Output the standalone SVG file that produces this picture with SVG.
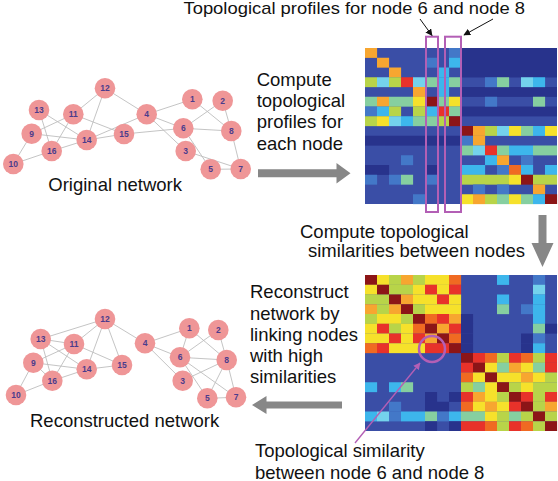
<svg xmlns="http://www.w3.org/2000/svg" width="558" height="481" viewBox="0 0 558 481">
<style>
text{font-family:"Liberation Sans",Arial,sans-serif;fill:#111}
.lab{font-size:18.5px}
.edges line{stroke:#bdbdbd;stroke-width:0.9}
.node circle{fill:#ef9697}
.node text{font-size:8.5px;font-weight:bold;fill:#4b3c8c;text-anchor:middle}
.cells rect{width:12.1px;height:9.9px}
.nv{fill:#28338c}.bl{fill:#3a4ea6}.b2{fill:#4378c8}.lb{fill:#3db6ec}.cy{fill:#74d2ec}.tl{fill:#86cfa0}
.yg{fill:#b8d449}.ye{fill:#f6e12b}.or{fill:#f7a630}.ro{fill:#f06a22}.rd{fill:#e8322a}.dr{fill:#8c1517}
.garrow{fill:#878787}
.mag{fill:none;stroke:#b35fb5;stroke-width:2}
</style>
<defs>
<marker id="ah" viewBox="0 0 10 10" refX="9" refY="5" markerWidth="7" markerHeight="7" orient="auto" markerUnits="userSpaceOnUse"><path d="M0,0L10,5L0,10z" fill="#111"/></marker>
<marker id="am" viewBox="0 0 10 10" refX="9" refY="5" markerWidth="7" markerHeight="7" orient="auto" markerUnits="userSpaceOnUse"><path d="M0,0L10,5L0,10z" fill="#b35fb5"/></marker>
</defs>

<!-- Top heatmap -->
<g id="heatmap-profiles">
<rect x="365" y="48" width="192" height="156" class="bl"/>
<rect x="461" y="48" width="96" height="29.5" class="nv"/>
<rect x="461" y="87" width="96" height="9.9" class="nv"/>
<rect x="461" y="106.5" width="96" height="9.9" class="nv"/>
<rect x="365" y="135.75" width="96" height="9.9" class="nv"/>
<g class="cells">
<rect x="365" y="48" class="or"/><rect x="449" y="48" class="b2"/>
<rect x="377" y="57.75" class="or"/><rect x="425" y="57.75" class="b2"/><rect x="449" y="57.75" class="lb"/>
<rect x="389" y="67.5" class="or"/><rect x="437" y="67.5" class="lb"/>
<rect x="365" y="77.25" class="yg"/><rect x="377" y="77.25" class="cy"/><rect x="389" y="77.25" class="yg"/><rect x="401" y="77.25" class="rd"/><rect x="413" y="77.25" class="cy"/><rect x="425" y="77.25" class="tl"/><rect x="437" y="77.25" class="lb"/><rect x="449" y="77.25" class="tl"/><rect x="485" y="77.25" class="b2"/><rect x="497" y="77.25" class="tl"/><rect x="521" y="77.25" class="cy"/><rect x="533" y="77.25" class="lb"/>
<rect x="413" y="87" class="or"/><rect x="437" y="87" class="lb"/>
<rect x="365" y="96.75" class="tl"/><rect x="377" y="96.75" class="or"/><rect x="389" y="96.75" class="tl"/><rect x="401" y="96.75" class="tl"/><rect x="413" y="96.75" class="ye"/><rect x="425" y="96.75" class="dr"/><rect x="437" y="96.75" class="tl"/><rect x="449" y="96.75" class="ye"/><rect x="485" y="96.75" class="b2"/><rect x="533" y="96.75" class="tl"/>
<rect x="365" y="106.5" class="b2"/><rect x="377" y="106.5" class="lb"/><rect x="389" y="106.5" class="yg"/><rect x="413" y="106.5" class="yg"/><rect x="425" y="106.5" class="lb"/><rect x="437" y="106.5" class="rd"/><rect x="449" y="106.5" class="tl"/>
<rect x="365" y="116.25" class="yg"/><rect x="377" y="116.25" class="ye"/><rect x="389" y="116.25" class="cy"/><rect x="401" y="116.25" class="lb"/><rect x="413" y="116.25" class="tl"/><rect x="425" y="116.25" class="tl"/><rect x="437" y="116.25" class="yg"/><rect x="449" y="116.25" class="dr"/>
<rect x="461" y="126" class="dr"/><rect x="473" y="126" class="or"/><rect x="485" y="126" class="yg"/><rect x="497" y="126" class="cy"/><rect x="509" y="126" class="ye"/><rect x="521" y="126" class="tl"/><rect x="533" y="126" class="lb"/><rect x="545" y="126" class="ye"/>
<rect x="461" y="135.75" class="b2"/><rect x="473" y="135.75" class="or"/>
<rect x="461" y="145.5" class="tl"/><rect x="473" y="145.5" class="cy"/><rect x="485" y="145.5" class="rd"/><rect x="497" y="145.5" class="tl"/><rect x="509" y="145.5" class="lb"/><rect x="521" y="145.5" class="lb"/><rect x="533" y="145.5" class="tl"/><rect x="545" y="145.5" class="tl"/>
<rect x="401" y="155.25" class="b2"/><rect x="485" y="155.25" class="lb"/><rect x="497" y="155.25" class="or"/><rect x="521" y="155.25" class="b2"/>
<rect x="365" y="165" class="nv"/><rect x="377" y="165" class="nv"/><rect x="425" y="165" class="nv"/><rect x="461" y="165" class="lb"/><rect x="473" y="165" class="lb"/><rect x="497" y="165" class="b2"/><rect x="509" y="165" class="ro"/><rect x="521" y="165" class="lb"/><rect x="545" y="165" class="lb"/>
<rect x="365" y="174.75" class="b2"/><rect x="389" y="174.75" class="b2"/><rect x="401" y="174.75" class="tl"/><rect x="425" y="174.75" class="b2"/><rect x="461" y="174.75" class="yg"/><rect x="473" y="174.75" class="yg"/><rect x="485" y="174.75" class="yg"/><rect x="497" y="174.75" class="yg"/><rect x="509" y="174.75" class="ye"/><rect x="521" y="174.75" class="dr"/><rect x="533" y="174.75" class="yg"/><rect x="545" y="174.75" class="yg"/>
<rect x="473" y="184.5" class="b2"/><rect x="497" y="184.5" class="b2"/><rect x="533" y="184.5" class="or"/>
<rect x="413" y="194.25" class="b2"/><rect x="461" y="194.25" class="ye"/><rect x="473" y="194.25" class="or"/><rect x="485" y="194.25" class="yg"/><rect x="497" y="194.25" class="tl"/><rect x="509" y="194.25" class="ye"/><rect x="521" y="194.25" class="tl"/><rect x="533" y="194.25" class="lb"/><rect x="545" y="194.25" style="fill:#8c1517;height:9.75px"/>
</g>
</g>

<!-- Bottom heatmap -->
<g id="heatmap-similarity">
<rect x="365" y="275" width="192" height="156" class="bl"/>
<g class="cells">
<rect x="365" y="275" class="dr"/><rect x="377" y="275" class="ye"/><rect x="389" y="275" class="yg"/><rect x="401" y="275" class="or"/><rect x="413" y="275" class="yg"/><rect x="425" y="275" class="ye"/><rect x="437" y="275" class="ye"/><rect x="449" y="275" class="ro"/><rect x="497" y="275" class="lb"/><rect x="533" y="275" class="b2"/>
<rect x="365" y="284.75" class="ye"/><rect x="377" y="284.75" class="dr"/><rect x="389" y="284.75" class="yg"/><rect x="401" y="284.75" class="yg"/><rect x="413" y="284.75" class="ye"/><rect x="425" y="284.75" class="rd"/><rect x="437" y="284.75" class="ye"/><rect x="449" y="284.75" class="rd"/><rect x="533" y="284.75" class="cy"/>
<rect x="365" y="294.5" class="yg"/><rect x="377" y="294.5" class="yg"/><rect x="389" y="294.5" class="dr"/><rect x="401" y="294.5" class="or"/><rect x="413" y="294.5" class="ye"/><rect x="425" y="294.5" class="ye"/><rect x="437" y="294.5" class="rd"/><rect x="449" y="294.5" class="ye"/><rect x="497" y="294.5" class="lb"/><rect x="533" y="294.5" class="lb"/>
<rect x="365" y="304.25" class="or"/><rect x="377" y="304.25" class="yg"/><rect x="389" y="304.25" class="or"/><rect x="401" y="304.25" class="dr"/><rect x="413" y="304.25" class="yg"/><rect x="425" y="304.25" class="ye"/><rect x="437" y="304.25" class="ye"/><rect x="449" y="304.25" class="ye"/><rect x="497" y="304.25" class="tl"/><rect x="521" y="304.25" class="b2"/><rect x="533" y="304.25" class="lb"/>
<rect x="365" y="314" class="yg"/><rect x="377" y="314" class="ye"/><rect x="389" y="314" class="ye"/><rect x="401" y="314" class="yg"/><rect x="413" y="314" class="dr"/><rect x="425" y="314" class="ro"/><rect x="437" y="314" class="rd"/><rect x="449" y="314" class="or"/><rect x="461" y="314" class="nv"/><rect x="533" y="314" class="lb"/>
<rect x="365" y="323.75" class="ye"/><rect x="377" y="323.75" class="rd"/><rect x="389" y="323.75" class="yg"/><rect x="401" y="323.75" class="ye"/><rect x="413" y="323.75" class="ro"/><rect x="425" y="323.75" class="dr"/><rect x="437" y="323.75" class="or"/><rect x="449" y="323.75" class="rd"/><rect x="461" y="323.75" class="nv"/><rect x="533" y="323.75" class="tl"/><rect x="545" y="323.75" class="nv"/>
<rect x="365" y="333.5" class="ye"/><rect x="377" y="333.5" class="ye"/><rect x="389" y="333.5" class="rd"/><rect x="401" y="333.5" class="ye"/><rect x="413" y="333.5" class="rd"/><rect x="425" y="333.5" class="or"/><rect x="437" y="333.5" class="dr"/><rect x="449" y="333.5" class="ro"/><rect x="461" y="333.5" class="nv"/><rect x="521" y="333.5" class="nv"/><rect x="533" y="333.5" class="b2"/>
<rect x="365" y="343.25" class="ro"/><rect x="377" y="343.25" class="rd"/><rect x="389" y="343.25" class="ye"/><rect x="401" y="343.25" class="ye"/><rect x="413" y="343.25" class="ye"/><rect x="425" y="343.25" class="rd"/><rect x="437" y="343.25" class="rd"/><rect x="449" y="343.25" class="dr"/><rect x="461" y="343.25" class="nv"/><rect x="521" y="343.25" class="nv"/><rect x="533" y="343.25" class="lb"/>
<rect x="461" y="353" class="dr"/><rect x="473" y="353" class="rd"/><rect x="485" y="353" class="ro"/><rect x="497" y="353" class="yg"/><rect x="509" y="353" class="rd"/><rect x="521" y="353" class="ro"/><rect x="533" y="353" class="yg"/><rect x="545" y="353" class="rd"/>
<rect x="461" y="362.75" class="rd"/><rect x="473" y="362.75" class="dr"/><rect x="485" y="362.75" class="ye"/><rect x="497" y="362.75" class="tl"/><rect x="509" y="362.75" class="or"/><rect x="521" y="362.75" class="ye"/><rect x="533" y="362.75" class="tl"/><rect x="545" y="362.75" class="rd"/>
<rect x="461" y="372.5" class="ro"/><rect x="473" y="372.5" class="ye"/><rect x="485" y="372.5" class="dr"/><rect x="497" y="372.5" class="ye"/><rect x="509" y="372.5" class="ye"/><rect x="521" y="372.5" class="or"/><rect x="533" y="372.5" class="ye"/><rect x="545" y="372.5" class="yg"/>
<rect x="365" y="382.25" class="lb"/><rect x="389" y="382.25" class="lb"/><rect x="401" y="382.25" class="tl"/><rect x="461" y="382.25" class="yg"/><rect x="473" y="382.25" class="tl"/><rect x="485" y="382.25" class="ye"/><rect x="497" y="382.25" class="dr"/><rect x="509" y="382.25" class="yg"/><rect x="521" y="382.25" class="ye"/><rect x="533" y="382.25" class="yg"/><rect x="545" y="382.25" class="yg"/>
<rect x="425" y="392" class="nv"/><rect x="449" y="392" class="nv"/><rect x="461" y="392" class="rd"/><rect x="473" y="392" class="or"/><rect x="485" y="392" class="ye"/><rect x="497" y="392" class="yg"/><rect x="509" y="392" class="dr"/><rect x="521" y="392" class="rd"/><rect x="533" y="392" class="yg"/><rect x="545" y="392" class="rd"/>
<rect x="389" y="401.75" class="b2"/><rect x="425" y="401.75" class="nv"/><rect x="437" y="401.75" class="nv"/><rect x="461" y="401.75" class="ro"/><rect x="473" y="401.75" class="ye"/><rect x="485" y="401.75" class="or"/><rect x="497" y="401.75" class="ye"/><rect x="509" y="401.75" class="rd"/><rect x="521" y="401.75" class="dr"/><rect x="533" y="401.75" class="yg"/><rect x="545" y="401.75" class="or"/>
<rect x="365" y="411.5" class="lb"/><rect x="377" y="411.5" class="cy"/><rect x="389" y="411.5" class="b2"/><rect x="401" y="411.5" class="lb"/><rect x="413" y="411.5" class="lb"/><rect x="425" y="411.5" class="tl"/><rect x="437" y="411.5" class="b2"/><rect x="449" y="411.5" class="lb"/><rect x="461" y="411.5" class="tl"/><rect x="473" y="411.5" class="tl"/><rect x="485" y="411.5" class="ye"/><rect x="497" y="411.5" class="yg"/><rect x="509" y="411.5" class="tl"/><rect x="521" y="411.5" class="yg"/><rect x="533" y="411.5" class="dr"/><rect x="545" y="411.5" class="yg"/>
<rect x="425" y="421.25" style="fill:#28338c;height:9.75px"/><rect x="449" y="421.25" style="fill:#28338c;height:9.75px"/><rect x="461" y="421.25" style="fill:#e8322a;height:9.75px"/><rect x="473" y="421.25" style="fill:#e8322a;height:9.75px"/><rect x="485" y="421.25" style="fill:#f06a22;height:9.75px"/><rect x="497" y="421.25" style="fill:#b8d449;height:9.75px"/><rect x="509" y="421.25" style="fill:#e8322a;height:9.75px"/><rect x="521" y="421.25" style="fill:#f06a22;height:9.75px"/><rect x="533" y="421.25" style="fill:#b8d449;height:9.75px"/><rect x="545" y="421.25" style="fill:#8c1517;height:9.75px"/>
</g>
</g>

<!-- Highlights -->
<g id="highlight-node6"><rect x="426" y="36.7" width="12" height="175.3" class="mag"/></g>
<g id="highlight-node8"><rect x="445" y="36.7" width="16" height="175.3" class="mag"/></g>
<g id="highlight-pair"><circle cx="432" cy="349" r="13" class="mag" style="stroke-width:2.5"/></g>

<!-- Networks: edges and arrows -->
<g id="connectors" class="edges">
<line x1="105" y1="88.3" x2="73.3" y2="114.3"/>
<line x1="105" y1="88.3" x2="86.7" y2="140"/>
<line x1="105" y1="88.3" x2="146.7" y2="114.3"/>
<line x1="39" y1="110" x2="86.7" y2="140"/>
<line x1="39" y1="110" x2="51.7" y2="151"/>
<line x1="73.3" y1="114.3" x2="31.7" y2="133.7"/>
<line x1="73.3" y1="114.3" x2="51.7" y2="151"/>
<line x1="73.3" y1="114.3" x2="124" y2="134"/>
<line x1="31.7" y1="133.7" x2="86.7" y2="140"/>
<line x1="31.7" y1="133.7" x2="13.3" y2="164"/>
<line x1="51.7" y1="151" x2="13.3" y2="164"/>
<line x1="51.7" y1="151" x2="86.7" y2="140"/>
<line x1="86.7" y1="140" x2="124" y2="134"/>
<line x1="86.7" y1="140" x2="146.7" y2="114.3"/>
<line x1="124" y1="134" x2="183.3" y2="128.3"/>
<line x1="146.7" y1="114.3" x2="192.3" y2="99.3"/>
<line x1="146.7" y1="114.3" x2="183.3" y2="128.3"/>
<line x1="146.7" y1="114.3" x2="185.7" y2="151"/>
<line x1="192.3" y1="99.3" x2="231.3" y2="131"/>
<line x1="222.7" y1="100.7" x2="183.3" y2="128.3"/>
<line x1="222.7" y1="100.7" x2="231.3" y2="131"/>
<line x1="183.3" y1="128.3" x2="231.3" y2="131"/>
<line x1="183.3" y1="128.3" x2="210.7" y2="169.3"/>
<line x1="231.3" y1="131" x2="240.7" y2="169"/>
<line x1="210.7" y1="169.3" x2="240.7" y2="169"/>
<line x1="185.7" y1="151" x2="240.7" y2="169"/>

<line x1="105" y1="319" x2="40.7" y2="339"/>
<line x1="105" y1="319" x2="74" y2="344"/>
<line x1="105" y1="319" x2="86.7" y2="369.3"/>
<line x1="105" y1="319" x2="122" y2="365"/>
<line x1="105" y1="319" x2="145" y2="343.3"/>
<line x1="40.7" y1="339" x2="74" y2="344"/>
<line x1="40.7" y1="339" x2="86.7" y2="369.3"/>
<line x1="40.7" y1="339" x2="52.3" y2="380.7"/>
<line x1="74" y1="344" x2="33.3" y2="362.7"/>
<line x1="74" y1="344" x2="52.3" y2="380.7"/>
<line x1="74" y1="344" x2="122" y2="365"/>
<line x1="33.3" y1="362.7" x2="86.7" y2="369.3"/>
<line x1="33.3" y1="362.7" x2="52.3" y2="380.7"/>
<line x1="33.3" y1="362.7" x2="16" y2="395"/>
<line x1="52.3" y1="380.7" x2="86.7" y2="369.3"/>
<line x1="52.3" y1="380.7" x2="16" y2="395"/>
<line x1="86.7" y1="369.3" x2="122" y2="365"/>
<line x1="145" y1="343.3" x2="189.3" y2="328.3"/>
<line x1="145" y1="343.3" x2="180" y2="357.3"/>
<line x1="145" y1="343.3" x2="182.7" y2="380.7"/>
<line x1="189.3" y1="328.3" x2="180" y2="357.3"/>
<line x1="189.3" y1="328.3" x2="226.7" y2="360"/>
<line x1="218.3" y1="330" x2="180" y2="357.3"/>
<line x1="218.3" y1="330" x2="226.7" y2="360"/>
<line x1="180" y1="357.3" x2="226.7" y2="360"/>
<line x1="180" y1="357.3" x2="207.3" y2="398.3"/>
<line x1="180" y1="357.3" x2="236" y2="397.3"/>
<line x1="182.7" y1="380.7" x2="226.7" y2="360"/>
<line x1="226.7" y1="360" x2="207.3" y2="398.3"/>
<line x1="226.7" y1="360" x2="236" y2="397.3"/>
<line x1="207.3" y1="398.3" x2="236" y2="397.3"/>

<line x1="420" y1="19" x2="432" y2="35.5" marker-end="url(#ah)" style="stroke:#111;stroke-width:1"/>
<line x1="493" y1="19" x2="464" y2="35" marker-end="url(#ah)" style="stroke:#111;stroke-width:1"/>
<line x1="355" y1="443" x2="420" y2="363" marker-end="url(#am)" style="stroke:#b35fb5;stroke-width:1.3"/>
<polygon class="garrow" points="258,169.3 336.5,169.3 336.5,163 350.5,173.3 336.5,183.6 336.5,177.3 258,177.3"/>
<polygon class="garrow" points="538.5,215 546.5,215 546.5,243 553.5,243 542.5,267 531.5,243 538.5,243"/>
<polygon class="garrow" points="342,401.5 266.5,401.5 266.5,396 252,405 266.5,414 266.5,408.5 342,408.5"/>
</g>

<!-- Original network nodes -->
<g id="orig-n12" class="node"><circle cx="105" cy="88.3" r="10.3"/><text x="105" y="91.3">12</text></g>
<g id="orig-n13" class="node"><circle cx="39" cy="110" r="10.3"/><text x="39" y="113">13</text></g>
<g id="orig-n11" class="node"><circle cx="73.3" cy="114.3" r="10.3"/><text x="73.3" y="117.3">11</text></g>
<g id="orig-n4" class="node"><circle cx="146.7" cy="114.3" r="10.3"/><text x="146.7" y="117.3">4</text></g>
<g id="orig-n1" class="node"><circle cx="192.3" cy="99.3" r="10.3"/><text x="192.3" y="102.3">1</text></g>
<g id="orig-n2" class="node"><circle cx="222.7" cy="100.7" r="10.3"/><text x="222.7" y="103.7">2</text></g>
<g id="orig-n9" class="node"><circle cx="31.7" cy="133.7" r="10.3"/><text x="31.7" y="136.7">9</text></g>
<g id="orig-n14" class="node"><circle cx="86.7" cy="140" r="10.3"/><text x="86.7" y="143">14</text></g>
<g id="orig-n15" class="node"><circle cx="124" cy="134" r="10.3"/><text x="124" y="137">15</text></g>
<g id="orig-n6" class="node"><circle cx="183.3" cy="128.3" r="10.3"/><text x="183.3" y="131.3">6</text></g>
<g id="orig-n8" class="node"><circle cx="231.3" cy="131" r="10.3"/><text x="231.3" y="134">8</text></g>
<g id="orig-n16" class="node"><circle cx="51.7" cy="151" r="10.3"/><text x="51.7" y="154">16</text></g>
<g id="orig-n3" class="node"><circle cx="185.7" cy="151" r="10.3"/><text x="185.7" y="154">3</text></g>
<g id="orig-n10" class="node"><circle cx="13.3" cy="164" r="10.3"/><text x="13.3" y="167">10</text></g>
<g id="orig-n5" class="node"><circle cx="210.7" cy="169.3" r="10.3"/><text x="210.7" y="172.3">5</text></g>
<g id="orig-n7" class="node"><circle cx="240.7" cy="169" r="10.3"/><text x="240.7" y="172">7</text></g>

<!-- Reconstructed network nodes -->
<g id="rec-n12" class="node"><circle cx="105" cy="319" r="10.3"/><text x="105" y="322">12</text></g>
<g id="rec-n13" class="node"><circle cx="40.7" cy="339" r="10.3"/><text x="40.7" y="342">13</text></g>
<g id="rec-n11" class="node"><circle cx="74" cy="344" r="10.3"/><text x="74" y="347">11</text></g>
<g id="rec-n4" class="node"><circle cx="145" cy="343.3" r="10.3"/><text x="145" y="346.3">4</text></g>
<g id="rec-n1" class="node"><circle cx="189.3" cy="328.3" r="10.3"/><text x="189.3" y="331.3">1</text></g>
<g id="rec-n2" class="node"><circle cx="218.3" cy="330" r="10.3"/><text x="218.3" y="333">2</text></g>
<g id="rec-n9" class="node"><circle cx="33.3" cy="362.7" r="10.3"/><text x="33.3" y="365.7">9</text></g>
<g id="rec-n14" class="node"><circle cx="86.7" cy="369.3" r="10.3"/><text x="86.7" y="372.3">14</text></g>
<g id="rec-n15" class="node"><circle cx="122" cy="365" r="10.3"/><text x="122" y="368">15</text></g>
<g id="rec-n6" class="node"><circle cx="180" cy="357.3" r="10.3"/><text x="180" y="360.3">6</text></g>
<g id="rec-n8" class="node"><circle cx="226.7" cy="360" r="10.3"/><text x="226.7" y="363">8</text></g>
<g id="rec-n16" class="node"><circle cx="52.3" cy="380.7" r="10.3"/><text x="52.3" y="383.7">16</text></g>
<g id="rec-n3" class="node"><circle cx="182.7" cy="380.7" r="10.3"/><text x="182.7" y="383.7">3</text></g>
<g id="rec-n10" class="node"><circle cx="16" cy="395" r="10.3"/><text x="16" y="398">10</text></g>
<g id="rec-n5" class="node"><circle cx="207.3" cy="398.3" r="10.3"/><text x="207.3" y="401.3">5</text></g>
<g id="rec-n7" class="node"><circle cx="236" cy="397.3" r="10.3"/><text x="236" y="400.3">7</text></g>

<!-- Labels -->
<g id="labels">
<text transform="translate(525,13.5) scale(1.15,1)" style="font-size:16px" text-anchor="end">Topological profiles for node 6 and node 8</text>
<text class="lab" x="256.7" y="85.7">Compute</text>
<text class="lab" x="256.7" y="107">topological</text>
<text class="lab" x="256.7" y="128.4">profiles for</text>
<text class="lab" x="256.7" y="149.8">each node</text>
<text class="lab" x="48.3" y="190.5">Original network</text>
<text class="lab" x="300" y="238">Compute topological</text>
<text class="lab" x="308" y="257">similarities between nodes</text>
<text class="lab" x="250" y="298.3">Reconstruct</text>
<text class="lab" x="250" y="319.5">network by</text>
<text class="lab" x="250" y="340.8">linking nodes</text>
<text class="lab" x="250" y="362">with high</text>
<text class="lab" x="250" y="383.3">similarities</text>
<text class="lab" x="30" y="427">Reconstructed network</text>
<text class="lab" x="255" y="457">Topological similarity</text>
<text class="lab" x="255" y="478.5">between node 6 and node 8</text>
</g>
</svg>
